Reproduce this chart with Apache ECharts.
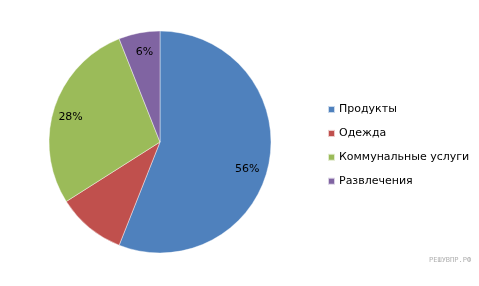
<!DOCTYPE html>
<html><head><meta charset="utf-8">
<script src="https://cdn.jsdelivr.net/npm/echarts@6/dist/echarts.min.js"></script>
<style>html,body{margin:0;padding:0;background:#fff}#c{width:479px;height:286px}</style>
</head><body><div id="c"></div>
<script>
const categories = ['Продукты', 'Одежда', 'Коммунальные услуги', 'Развлечения'];
const values = [56, 10, 28, 6];
const labels = ['56%', '', '28%', '6%'];
const colors = ['#4F81BD', '#C0504D', '#9BBB59', '#8064A2'];

const labelOffsets = [[-5, 10], [0, 0], [0, 4], [2, 2]];
const chart = echarts.init(document.getElementById('c'), null, {renderer: 'canvas'});
const font = 'DejaVu Sans';
chart.setOption({
  animation: false,
  color: colors,
  legend: {
    orient: 'vertical', left: 322, top: 99,
    itemWidth: 7, itemHeight: 7, itemGap: 12.9, icon: 'rect',
    data: categories,
    textStyle: {fontFamily: font, fontSize: 11, color: '#000', padding: [0,0,0,-1]}
  },
  graphic: [{type: 'text', left: 429, top: 257, style: {text: 'РЕШУВПР.РФ', fill: '#b0b0b0', font: '7px "DejaVu Sans Mono"'}}],
  series: [
    {
      type: 'pie', center: [160, 142], radius: [0, 111], startAngle: 90, clockwise: true,
      data: categories.map((n, i) => ({name: n, value: values[i]})),
      label: {show: false}, labelLine: {show: false},
      itemStyle: {borderColor: 'rgba(255,255,255,0.7)', borderWidth: 0.6},
      emphasis: {disabled: true}
    },
    {
      type: 'pie', center: [160, 142], radius: [71, 111], startAngle: 90, clockwise: true, silent: true,
      legendHoverLink: false,
      data: categories.map((n, i) => ({name: n, value: values[i], label: {formatter: labels[i], offset: labelOffsets[i]}})),
      itemStyle: {color: 'transparent'},
      label: {show: true, position: 'inside', color: '#000', fontFamily: font, fontSize: 11},
      labelLine: {show: false},
      emphasis: {disabled: true}
    }
  ]
});
</script></body></html>
